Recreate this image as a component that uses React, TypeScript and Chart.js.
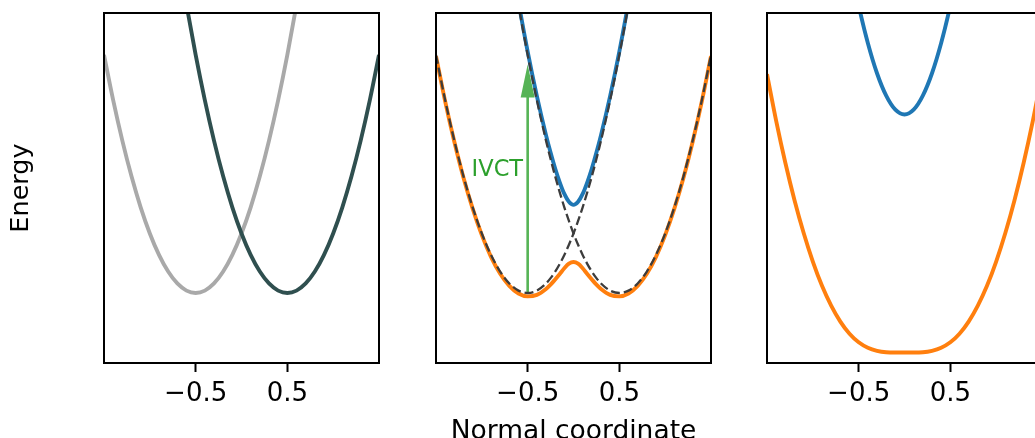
import React, { useEffect, useRef } from 'react';
import { Chart, registerables } from 'chart.js';

Chart.register(...registerables);

// ---------- data ----------
const X = [-1.5, -1.4, -1.3, -1.2, -1.1, -1.0, -0.9, -0.8, -0.7, -0.6, -0.5, -0.4, -0.3, -0.2, -0.1, 0,
  0.1, 0.2, 0.3, 0.4, 0.5, 0.6, 0.7, 0.8, 0.9, 1.0, 1.1, 1.2, 1.3, 1.4, 1.5];

const X_FINE = [-1.5, -1.4, -1.3, -1.2, -1.1, -1.0, -0.9, -0.8, -0.7, -0.6, -0.5, -0.4, -0.3, -0.25, -0.2, -0.15,
  -0.1, -0.05, 0, 0.05, 0.1, 0.15, 0.2, 0.25, 0.3, 0.4, 0.5, 0.6, 0.7, 0.8, 0.9, 1.0, 1.1, 1.2, 1.3, 1.4, 1.5];

// panel 1: diabatic wells
const LEFT_WELL = [1.00, 0.81, 0.64, 0.49, 0.36, 0.25, 0.16, 0.09, 0.04, 0.01, 0.00, 0.01, 0.04, 0.09, 0.16, 0.25,
  0.36, 0.49, 0.64, 0.81, 1.00, 1.21, 1.44, 1.69, 1.96, 2.25, 2.56, 2.89, 3.24, 3.61, 4.00];
const RIGHT_WELL = [4.00, 3.61, 3.24, 2.89, 2.56, 2.25, 1.96, 1.69, 1.44, 1.21, 1.00, 0.81, 0.64, 0.49, 0.36, 0.25,
  0.16, 0.09, 0.04, 0.01, 0.00, 0.01, 0.04, 0.09, 0.16, 0.25, 0.36, 0.49, 0.64, 0.81, 1.00];

// panel 2: weak coupling
const LEFT_WELL_FINE = [1.00, 0.81, 0.64, 0.49, 0.36, 0.25, 0.16, 0.09, 0.04, 0.01, 0.00, 0.01, 0.04, 0.0625, 0.09,
  0.1225, 0.16, 0.2025, 0.25, 0.3025, 0.36, 0.4225, 0.49, 0.5625, 0.64, 0.81, 1.00, 1.21, 1.44, 1.69, 1.96, 2.25,
  2.56, 2.89, 3.24, 3.61, 4.00];
const RIGHT_WELL_FINE = [4.00, 3.61, 3.24, 2.89, 2.56, 2.25, 1.96, 1.69, 1.44, 1.21, 1.00, 0.81, 0.64, 0.5625, 0.49,
  0.4225, 0.36, 0.3025, 0.25, 0.2025, 0.16, 0.1225, 0.09, 0.0625, 0.04, 0.01, 0.00, 0.01, 0.04, 0.09, 0.16, 0.25,
  0.36, 0.49, 0.64, 0.81, 1.00];
const WEAK_UPPER = [4.005, 3.615, 3.246, 2.896, 2.567, 2.257, 1.968, 1.699, 1.450, 1.222, 1.014, 0.828, 0.663, 0.590,
  0.523, 0.465, 0.416, 0.383, 0.370, 0.383, 0.416, 0.465, 0.523, 0.590, 0.663, 0.828, 1.014, 1.222, 1.450, 1.699,
  1.968, 2.257, 2.567, 2.896, 3.246, 3.615, 4.005];
const WEAK_LOWER = [0.995, 0.805, 0.635, 0.484, 0.354, 0.243, 0.152, 0.081, 0.030, -0.002, -0.014, -0.008, 0.017,
  0.035, 0.057, 0.080, 0.104, 0.123, 0.130, 0.123, 0.104, 0.080, 0.057, 0.035, 0.017, -0.008, -0.014, -0.002, 0.030,
  0.081, 0.152, 0.243, 0.354, 0.484, 0.635, 0.805, 0.995];

// panel 3: strong coupling
const STRONG_UPPER = [4.081, 3.697, 3.333, 2.990, 2.668, 2.368, 2.090, 1.833, 1.600, 1.391, 1.207, 1.050, 0.923,
  0.829, 0.770, 0.750, 0.770, 0.829, 0.923, 1.050, 1.207, 1.391, 1.600, 1.833, 2.090, 2.368, 2.668, 2.990, 3.333,
  3.697, 4.081];
const STRONG_LOWER = [0.919, 0.723, 0.547, 0.390, 0.252, 0.132, 0.030, -0.053, -0.120, -0.171, -0.207, -0.230,
  -0.243, -0.249, -0.250, -0.250, -0.250, -0.249, -0.243, -0.230, -0.207, -0.171, -0.120, -0.053, 0.030, 0.132,
  0.252, 0.390, 0.547, 0.723, 0.919];

const X_TICKS = [-0.5, 0.5];
const X_TICK_LABELS = ['\u22120.5', '0.5'];
const X_MIN = -1.5;
const X_MAX = 1.5;
const Y_MIN = -0.294;
const Y_MAX = 1.176;

const ARROW_X = -0.5;
const ARROW_Y = [0, 0.96];
const IVCT_TEXT = 'IVCT';
const IVCT_POS = [-0.55, 0.492];

const Y_LABEL = 'Energy';
const X_LABEL = 'Normal coordinate';

// ---------- layout / style ----------
const CANVAS_W = 1060;
const CANVAS_H = 450;
const PLOT_TOP = 13;
const PLOT_BOTTOM = 363;
const PLOT_W = 275;
const FONT = '"DejaVu Sans", "Liberation Sans", sans-serif';
const LW = 3.9;

type LineSpec = { xs: number[]; ys: number[]; color: string; width: number; dash?: number[] };
type PanelSpec = { left: number; lines: LineSpec[]; yTitle?: string; xTitle?: string; arrow?: boolean };

const DASH = '#3c3c3c';
const BLUE = '#1f77b4';
const ORANGE = '#ff7f0e';

const PANELS: PanelSpec[] = [
  {
    left: 104,
    yTitle: Y_LABEL,
    lines: [
      { xs: X, ys: RIGHT_WELL, color: '#2f4f4f', width: LW },
      { xs: X, ys: LEFT_WELL, color: '#a9a9a9', width: LW },
    ],
  },
  {
    left: 436,
    xTitle: X_LABEL,
    arrow: true,
    lines: [
      { xs: X_FINE, ys: LEFT_WELL_FINE, color: DASH, width: 2.3, dash: [9, 4] },
      { xs: X_FINE, ys: RIGHT_WELL_FINE, color: DASH, width: 2.3, dash: [9, 4] },
      { xs: X_FINE, ys: WEAK_UPPER, color: BLUE, width: LW },
      { xs: X_FINE, ys: WEAK_LOWER, color: ORANGE, width: LW },
    ],
  },
  {
    left: 767,
    lines: [
      { xs: X, ys: STRONG_UPPER, color: BLUE, width: LW },
      { xs: X, ys: STRONG_LOWER, color: ORANGE, width: LW },
    ],
  },
];

const framePlugin = {
  id: 'frame',
  afterDatasetsDraw(chart: any) {
    const { ctx, chartArea } = chart;
    ctx.save();
    ctx.strokeStyle = '#000';
    ctx.lineWidth = 2;
    ctx.strokeRect(chartArea.left, chartArea.top, chartArea.right - chartArea.left, chartArea.bottom - chartArea.top);
    ctx.restore();
  },
};

const arrowPlugin = {
  id: 'ivctArrow',
  beforeDatasetsDraw(chart: any) {
    const { ctx, scales } = chart;
    const xs = scales.x;
    const ys = scales.y;
    const px = xs.getPixelForValue(ARROW_X);
    const pBase = ys.getPixelForValue(ARROW_Y[0]);
    const pTip = ys.getPixelForValue(ARROW_Y[1]);
    const headLen = 33;
    const headHalf = 7;
    const shaftHalf = 1.3;
    ctx.save();
    ctx.fillStyle = 'rgba(44,160,44,0.8)';
    ctx.beginPath();
    ctx.moveTo(px - shaftHalf, pBase);
    ctx.lineTo(px - shaftHalf, pTip + headLen);
    ctx.lineTo(px - headHalf, pTip + headLen);
    ctx.lineTo(px, pTip);
    ctx.lineTo(px + headHalf, pTip + headLen);
    ctx.lineTo(px + shaftHalf, pTip + headLen);
    ctx.lineTo(px + shaftHalf, pBase);
    ctx.closePath();
    ctx.fill();
    ctx.fillStyle = '#2ca02c';
    ctx.font = '22.5px ' + FONT;
    ctx.textAlign = 'right';
    ctx.textBaseline = 'alphabetic';
    ctx.fillText(IVCT_TEXT, xs.getPixelForValue(IVCT_POS[0]), ys.getPixelForValue(IVCT_POS[1]));
    ctx.restore();
  },
};

function buildConfig(spec: PanelSpec): any {
  const hasY = !!spec.yTitle;
  return {
    type: 'line',
    data: {
      datasets: spec.lines.map((l) => ({
        data: l.xs.map((x, i) => ({ x, y: l.ys[i] })),
        borderColor: l.color,
        borderWidth: l.width,
        borderDash: l.dash ?? [],
        borderCapStyle: 'butt',
        pointRadius: 0,
        pointHoverRadius: 0,
        fill: false,
        cubicInterpolationMode: 'monotone',
        clip: 0,
      })),
    },
    options: {
      animation: false,
      responsive: false,
      devicePixelRatio: 1,
      events: [],
      layout: {
        padding: {
          left: hasY ? 0 : spec.left,
          right: CANVAS_W - spec.left - PLOT_W,
          top: PLOT_TOP,
          bottom: 0,
        },
      },
      elements: { line: { capBezierPoints: false } },
      plugins: { legend: { display: false }, tooltip: { enabled: false }, title: { display: false } },
      scales: {
        x: {
          type: 'linear',
          min: X_MIN,
          max: X_MAX,
          afterBuildTicks: (s: any) => {
            s.ticks = X_TICKS.map((v) => ({ value: v }));
          },
          afterFit: (s: any) => {
            s.height = CANVAS_H - PLOT_BOTTOM;
          },
          ticks: {
            callback: (v: number) => {
              const i = X_TICKS.indexOf(v);
              return i >= 0 ? X_TICK_LABELS[i] : '';
            },
            font: { family: FONT, size: 26 },
            color: '#000',
            padding: 6.5,
            maxRotation: 0,
            autoSkip: false,
          },
          grid: {
            display: true,
            drawOnChartArea: false,
            drawTicks: true,
            tickLength: 9,
            tickWidth: 2,
            tickColor: '#000',
            color: '#000',
          },
          border: { display: false },
          title: {
            display: !!spec.xTitle,
            text: spec.xTitle ?? '',
            color: '#000',
            font: { family: FONT, size: 26.5, lineHeight: 1 },
            padding: { top: 0, bottom: 5 },
          },
        },
        y: {
          type: 'linear',
          min: Y_MIN,
          max: Y_MAX,
          display: hasY,
          afterFit: (s: any) => {
            s.width = hasY ? spec.left : 0;
          },
          ticks: { display: false },
          grid: { display: false },
          border: { display: false },
          title: {
            display: hasY,
            text: spec.yTitle ?? '',
            color: '#000',
            font: { family: FONT, size: 25.5, lineHeight: 1 },
            padding: { top: 9, bottom: 0 },
          },
        },
      },
    },
    plugins: spec.arrow ? [framePlugin, arrowPlugin] : [framePlugin],
  };
}

function Panel({ spec }: { spec: PanelSpec }) {
  const ref = useRef<HTMLCanvasElement>(null);
  useEffect(() => {
    if (!ref.current) return;
    const chart = new Chart(ref.current, buildConfig(spec));
    return () => chart.destroy();
  }, [spec]);
  return (
    <canvas
      ref={ref}
      width={CANVAS_W}
      height={CANVAS_H}
      style={{ position: 'absolute', left: 0, top: 0, width: CANVAS_W, height: CANVAS_H }}
    />
  );
}

export default function App() {
  return (
    <div
      style={{
        position: 'fixed',
        left: 0,
        top: 0,
        width: 1035,
        height: 438,
        overflow: 'hidden',
        background: '#fff',
      }}
    >
      {PANELS.map((p, i) => (
        <Panel key={i} spec={p} />
      ))}
    </div>
  );
}
